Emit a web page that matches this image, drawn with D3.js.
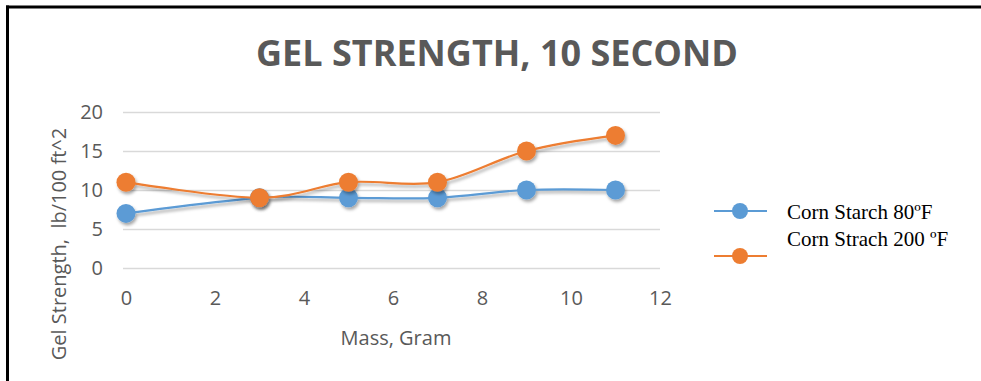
<!DOCTYPE html>
<html>
<head>
<meta charset="utf-8">
<script src="https://cdn.jsdelivr.net/npm/d3@7"></script>
<style>
  html, body { margin: 0; padding: 0; background: #fff; }
  svg { display: block; }
</style>
</head>
<body>
<div id="chart"></div>
<script>
// Gel strength (10 second) versus mass of corn starch added
const massGrams = [0, 3, 5, 7, 9, 11];
const cornStarch80F = [7, 9, 9, 9, 10, 10];
const cornStarch200F = [11, 9, 11, 11, 15, 17];
const xTicks = [0, 2, 4, 6, 8, 10, 12];
const yTicks = [0, 5, 10, 15, 20];
const seriesNames = ["Corn Starch 80ºF", "Corn Strach 200 ºF"];
const seriesColors = ["#5B9BD5", "#ED7D31"];

const width = 981, height = 381;
const svg = d3.select("#chart").append("svg")
  .attr("width", width).attr("height", height);

// soft drop shadow used by lines and markers
const defs = svg.append("defs");
const f = defs.append("filter").attr("id", "shadow")
  .attr("x", "-50%").attr("y", "-50%").attr("width", "200%").attr("height", "200%");
f.append("feDropShadow").attr("dx", 1.5).attr("dy", 2.5)
  .attr("stdDeviation", 1.8).attr("flood-color", "#000").attr("flood-opacity", 0.35);

// frame
svg.append("line").attr("x1", 6).attr("x2", width).attr("y1", 7).attr("y2", 7)
  .attr("stroke", "#000").attr("stroke-width", 3);
svg.append("line").attr("x1", 7.5).attr("x2", 7.5).attr("y1", 5.5).attr("y2", height)
  .attr("stroke", "#000").attr("stroke-width", 3);

const x = d3.scaleLinear().domain([0, 12]).range([126, 660]);
const y = d3.scaleLinear().domain([0, 20]).range([268, 112]);

const uiFont = "'Open Sans', sans-serif";
const labelSize = 20;

// title
svg.append("text")
  .attr("x", 497).attr("y", 66)
  .attr("text-anchor", "middle")
  .attr("font-family", "'Liberation Sans Narrow', 'Open Sans', sans-serif")
  .attr("font-weight", "bold")
  .attr("font-size", 36)
  .attr("fill", "#595959")
  .text("GEL STRENGTH, 10 SECOND");

// horizontal gridlines + y axis labels
const yAxis = d3.axisLeft(y).tickValues(yTicks).tickSize(-(x(12) - x(0) + 3)).tickPadding(20);
const gy = svg.append("g").attr("transform", `translate(${x(0) - 3},0)`).call(yAxis);
gy.select(".domain").remove();
gy.selectAll(".tick line").attr("stroke", "#d9d9d9").attr("stroke-width", 1.3);
gy.selectAll(".tick text")
  .attr("fill", "#595959")
  .attr("font-family", uiFont)
  .attr("font-size", labelSize);

// x axis labels (no axis line)
const xAxis = d3.axisBottom(x).tickValues(xTicks).tickSize(0).tickPadding(0);
const gx = svg.append("g").attr("transform", "translate(0,291)").call(xAxis);
gx.select(".domain").remove();
gx.selectAll(".tick text")
  .attr("fill", "#595959")
  .attr("font-family", uiFont)
  .attr("font-size", labelSize);

// axis titles
svg.append("text")
  .attr("x", 396).attr("y", 345)
  .attr("text-anchor", "middle")
  .attr("fill", "#595959")
  .attr("font-family", uiFont)
  .attr("font-size", labelSize)
  .text("Mass, Gram");

svg.append("text")
  .attr("transform", "translate(66,244) rotate(-90)")
  .attr("text-anchor", "middle")
  .attr("fill", "#595959")
  .attr("font-family", uiFont)
  .attr("font-size", labelSize)
  .attr("xml:space", "preserve")
  .style("white-space", "pre")
  .text("Gel Strength,  lb/100 ft^2");

// series
const line = d3.line()
  .x((d, i) => x(massGrams[i]))
  .y(d => y(d))
  .curve(d3.curveCatmullRom.alpha(0));

const allSeries = [cornStarch80F, cornStarch200F];
allSeries.forEach((vals, k) => {
  const g = svg.append("g").attr("filter", "url(#shadow)");
  g.append("path")
    .datum(vals)
    .attr("d", line)
    .attr("fill", "none")
    .attr("stroke", seriesColors[k])
    .attr("stroke-width", 2.2);
  g.selectAll("circle")
    .data(vals)
    .join("circle")
    .attr("cx", (d, i) => x(massGrams[i]))
    .attr("cy", d => y(d))
    .attr("r", 9.5)
    .attr("fill", seriesColors[k]);
});

// legend
const legendY = [211, 256];
const legendTextY = [219, 246];
seriesNames.forEach((name, k) => {
  const g = svg.append("g");
  g.append("line")
    .attr("x1", 714).attr("x2", 767)
    .attr("y1", legendY[k]).attr("y2", legendY[k])
    .attr("stroke", seriesColors[k]).attr("stroke-width", 2);
  g.append("circle")
    .attr("cx", 740).attr("cy", legendY[k]).attr("r", 8)
    .attr("fill", seriesColors[k]);
  svg.append("text")
    .attr("x", 787).attr("y", legendTextY[k])
    .attr("font-family", "'Liberation Serif', 'Times New Roman', serif")
    .attr("font-size", 21)
    .attr("fill", "#000")
    .text(name);
});
</script>
</body>
</html>
